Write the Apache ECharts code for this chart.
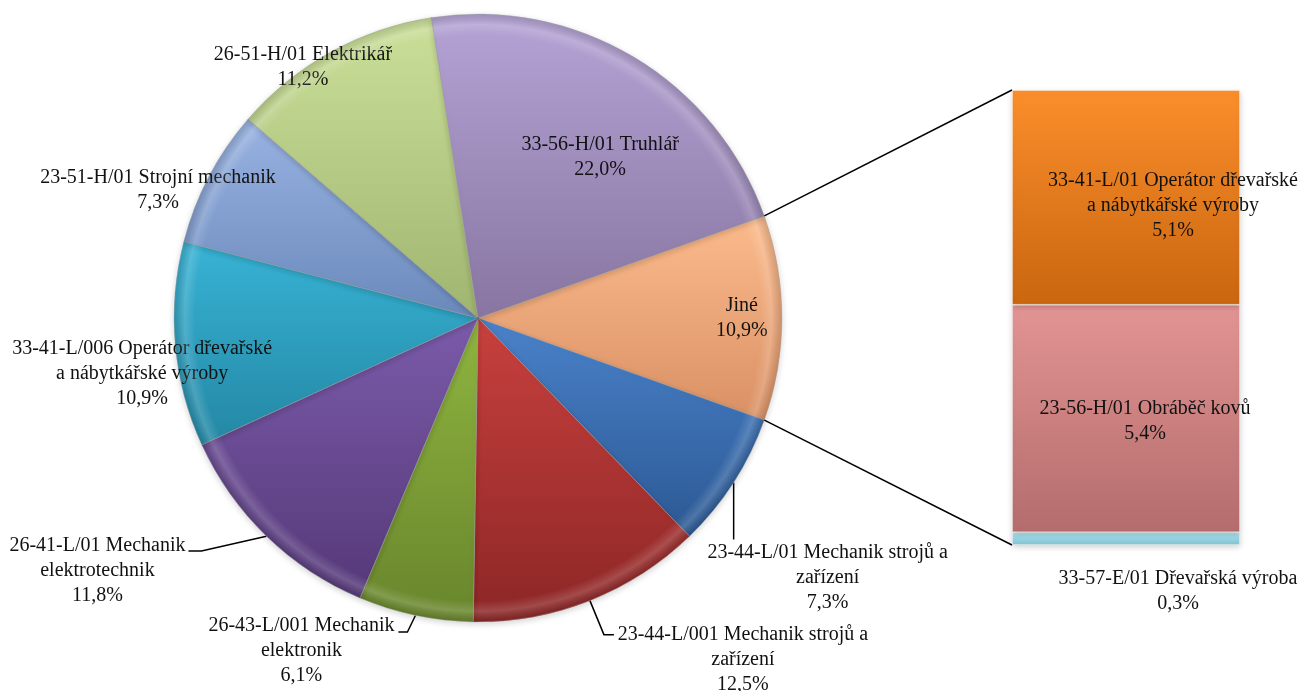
<!DOCTYPE html>
<html>
<head>
<meta charset="utf-8">
<script src="https://cdn.jsdelivr.net/npm/echarts@6/dist/echarts.min.js"></script>
<style>html,body{margin:0;padding:0;background:#fff;}#c{width:1302px;height:691px;}</style>
</head>
<body>
<div id="c"></div>
<script>
// ---- data ----
const pieNames = [
  'Jiné',
  '23-44-L/01 Mechanik strojů a\nzařízení',
  '23-44-L/001 Mechanik strojů a\nzařízení',
  '26-43-L/001 Mechanik\nelektronik',
  '26-41-L/01 Mechanik\nelektrotechnik',
  '33-41-L/006 Operátor dřevařské\na nábytkářské výroby',
  '23-51-H/01 Strojní mechanik',
  '26-51-H/01 Elektrikář',
  '33-56-H/01 Truhlář'
];
const pieValues = [10.9, 7.3, 12.5, 6.1, 11.8, 10.9, 7.3, 11.2, 22.0];
const barNames = [
  '33-57-E/01 Dřevařská výroba',
  '23-56-H/01 Obráběč kovů',
  '33-41-L/01 Operátor dřevařské\na nábytkářské výroby'
];
const barValues = [0.3, 5.4, 5.1];

// ---- styles ----
const pieColors = [
  ['#fcbb8c', '#d99064'],
  ['#4a82ca', '#2b5893'],
  ['#c8413e', '#8c2626'],
  ['#8fb540', '#68852c'],
  ['#7b5baa', '#553878'],
  ['#38b3d5', '#2387a4'],
  ['#99b3e2', '#6a89bb'],
  ['#cadf98', '#a0b570'],
  ['#b4a3d5', '#8875a1']
];
const barColors = [
  ['#b4e8f4', '#7ec2d4'],
  ['#e39494', '#b46c6c'],
  ['#fb8e2c', '#c9660f']
];
const FONT = {fontFamily: 'Liberation Serif', fontSize: 20, lineHeight: 25, color: '#111'};
const pieCenter = [478, 318], pieR = 304;
// label placement (style): inside labels by polar factor, outside by leader offsets
const insideLab = {0: {rf: 0.868, da: 0}, 5: {rf: 1.12, da: 4.4}, 6: {rf: 1.134, da: 5.9}, 7: {rf: 1.007, da: 5.9}, 8: {rf: 0.665, da: -6.4}};
const outsideLab = {
  1: {pts: [[0, 0], [0, 57]], lab: [94, 58]},
  2: {pts: [[0, 0], [14, 34], [24, 34]], lab: [153, 22]},
  3: {pts: [[0, 0], [-8, 16.5], [-17, 16.5]], lab: [-114, -2]},
  4: {pts: [[0, 0], [-65, 14.7], [-78, 14.7]], lab: [-169, -3]}
};

const fmt = v => v.toFixed(1).replace('.', ',') + '%';
const pieSum = pieValues.reduce((a, b) => a + b, 0);
const barSum = barValues.reduce((a, b) => a + b, 0);
const startAngle = pieValues[0] / pieSum * 360 / 2;
const mids = [];
(function () { let acc = startAngle; pieValues.forEach(v => { const s = v / pieSum * 360; mids.push(acc - s / 2); acc -= s; }); })();
function polar(rf, deg) {
  const a = deg * Math.PI / 180;
  return [pieCenter[0] + rf * pieR * Math.cos(a), pieCenter[1] - rf * pieR * Math.sin(a)];
}
function grad(c) {
  return {type: 'linear', x: 0, y: 0, x2: 0, y2: 1, colorStops: [{offset: 0, color: c[0]}, {offset: 1, color: c[1]}]};
}

const pieData = pieValues.map((v, i) => ({
  value: v,
  name: pieNames[i],
  itemStyle: {color: grad(pieColors[i])},
  label: {position: outsideLab[i] ? 'outside' : 'inside'},
  labelLine: {show: !!outsideLab[i]}
}));
const bevel = {
  type: 'radial', x: pieCenter[0], y: pieCenter[1], r: pieR, global: true,
  colorStops: [
    {offset: 0, color: 'rgba(255,255,255,0)'},
    {offset: 0.93, color: 'rgba(255,255,255,0)'},
    {offset: 0.965, color: 'rgba(255,255,255,0.16)'},
    {offset: 1, color: 'rgba(0,0,0,0.12)'}
  ]
};

const chart = echarts.init(document.getElementById('c'));
chart.setOption({
  animation: false,
  backgroundColor: '#fff',
  grid: {left: 1012, top: 90, width: 228, height: 455},
  xAxis: {type: 'category', data: ['Jiné'], show: false},
  yAxis: {type: 'value', min: 0, max: barSum, show: false},
  series: [
    {
      type: 'pie',
      center: pieCenter,
      radius: pieR,
      startAngle: startAngle,
      clockwise: true,
      avoidLabelOverlap: false,
      data: pieData,
      z: 2,
      itemStyle: {borderColor: 'rgba(255,255,255,0.35)', borderWidth: 1, shadowBlur: 6, shadowColor: 'rgba(0,0,0,0.18)', shadowOffsetY: 2},
      label: Object.assign({formatter: p => p.name + '\n' + fmt(p.value), align: 'center'}, FONT),
      labelLine: {lineStyle: {color: '#000', width: 1.5}},
      emphasis: {disabled: true},
      labelLayout: function (p) {
        const i = p.dataIndex;
        if (insideLab[i]) {
          const pt = polar(insideLab[i].rf, mids[i] + insideLab[i].da);
          return {x: pt[0], y: pt[1], align: 'center', verticalAlign: 'middle'};
        }
        const o = outsideLab[i];
        const p0 = polar(1, mids[i]);
        return {
          x: p0[0] + o.lab[0], y: p0[1] + o.lab[1], align: 'center', verticalAlign: 'top',
          labelLinePoints: o.pts.map(d => [p0[0] + d[0], p0[1] + d[1]])
        };
      }
    },
    {
      type: 'pie',
      center: pieCenter,
      radius: pieR,
      startAngle: startAngle,
      clockwise: true,
      silent: true,
      z: 3,
      data: pieValues.map(v => ({value: v})),
      itemStyle: {color: bevel, borderColor: 'rgba(0,0,0,0.12)', borderWidth: 1},
      label: {show: false},
      labelLine: {show: false},
      emphasis: {disabled: true}
    }
  ].concat(barValues.map((v, i) => ({
    type: 'bar',
    stack: 'jine',
    name: barNames[i],
    barWidth: '100%',
    data: [v],
    itemStyle: {color: grad(barColors[i]), borderColor: 'rgba(255,255,255,0.35)', borderWidth: 1, shadowBlur: 6, shadowColor: 'rgba(0,0,0,0.2)', shadowOffsetY: 2},
    emphasis: {disabled: true},
    label: Object.assign({
      show: true,
      formatter: () => barNames[i] + '\n' + fmt(v),
      align: 'center'
    }, FONT, i === 0 ? {position: 'bottom', distance: 21, offset: [52, 0]} :
             i === 1 ? {position: 'inside', offset: [19, 3]} :
                       {position: 'inside', offset: [47, 8]})
  })))
});

// connector lines from the "Jiné" slice to the bar
const pTop = polar(1, startAngle), pBot = polar(1, -startAngle);
const bTop = chart.convertToPixel({gridIndex: 0}, [0, barSum]);
const bBot = chart.convertToPixel({gridIndex: 0}, [0, 0]);
const barLeft = chart.getModel().getComponent('grid', 0).coordinateSystem.getRect().x;
chart.setOption({
  graphic: [
    {type: 'line', shape: {x1: pTop[0], y1: pTop[1], x2: barLeft, y2: bTop[1]}, style: {stroke: '#000', lineWidth: 1.5}, z: 10},
    {type: 'line', shape: {x1: pBot[0], y1: pBot[1], x2: barLeft, y2: bBot[1]}, style: {stroke: '#000', lineWidth: 1.5}, z: 10}
  ]
});
</script>
</body>
</html>
